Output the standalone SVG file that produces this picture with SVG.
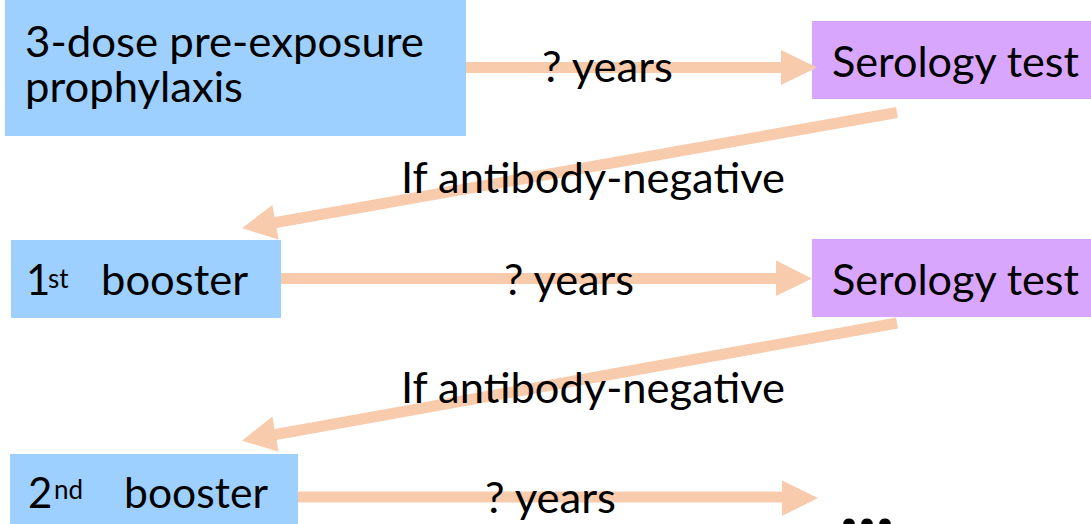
<svg xmlns="http://www.w3.org/2000/svg" width="1091" height="524" viewBox="0 0 1091 524">
<style>
.blue{fill:#9ED0FF}
.purple{fill:#D9A6FE}
.t{font-family:Lato,"Liberation Sans",sans-serif;font-size:42px;fill:#000}
.s{font-size:26px}
.shaft{stroke:#F8CBAD;stroke-width:11;fill:none}
.head{fill:#F8CBAD}
</style>
<rect width="1091" height="524" fill="#fff"/>
<g id="node-preexposure">
<rect class="blue" x="5" y="0" width="461" height="136"/>
<text class="t"><tspan x="25" y="57" textLength="399" lengthAdjust="spacingAndGlyphs">3-dose pre-exposure</tspan><tspan x="25" y="102" textLength="218" lengthAdjust="spacingAndGlyphs">prophylaxis</tspan></text>
</g>
<g id="node-serology1">
<rect class="purple" x="812" y="21" width="279" height="78"/>
<text class="t" x="832" y="77" textLength="247" lengthAdjust="spacingAndGlyphs">Serology test</text>
</g>
<g id="node-booster1">
<rect class="blue" x="11" y="240" width="270" height="78"/>
<text class="t"><tspan x="26" y="295">1</tspan><tspan class="s" x="48" y="288">st</tspan><tspan x="101" y="295" textLength="147" lengthAdjust="spacingAndGlyphs">booster</tspan></text>
</g>
<g id="node-serology2">
<rect class="purple" x="812" y="239" width="279" height="78"/>
<text class="t" x="832" y="295" textLength="247" lengthAdjust="spacingAndGlyphs">Serology test</text>
</g>
<g id="node-booster2">
<rect class="blue" x="10" y="454" width="288" height="70"/>
<text class="t"><tspan x="28" y="508">2</tspan><tspan class="s" x="54" y="499">nd</tspan><tspan x="124" y="508" textLength="144" lengthAdjust="spacingAndGlyphs">booster</tspan></text>
</g>
<g id="node-ellipsis">
<text x="840" y="528" font-family="Lato,'Liberation Sans',sans-serif" font-weight="bold" font-size="66" textLength="54" lengthAdjust="spacingAndGlyphs">...</text>
</g>
<g id="connectors">
<line class="shaft" x1="466" y1="67.5" x2="783" y2="67.5"/>
<polygon class="head" points="781,50 817,67.5 781,85"/>
<line class="shaft" x1="897" y1="112.5" x2="273" y2="223"/>
<polygon class="head" points="272.4,205 242,228.3 278.6,239.5"/>
<line class="shaft" x1="281" y1="278.5" x2="778" y2="278.5"/>
<polygon class="head" points="776,260.5 812,278.5 776,296"/>
<line class="shaft" x1="897" y1="323" x2="273" y2="435"/>
<polygon class="head" points="272.4,416.5 242,440.7 278.6,451.8"/>
<line class="shaft" x1="298" y1="497" x2="784" y2="497"/>
<polygon class="head" points="782,480.5 818,498 782,516"/>
</g>
<g id="labels">
<text class="t" x="542" y="82" textLength="131" lengthAdjust="spacingAndGlyphs">? years</text>
<text class="t" x="401" y="193" textLength="384" lengthAdjust="spacingAndGlyphs">If antibody-negative</text>
<text class="t" x="504" y="295" textLength="130" lengthAdjust="spacingAndGlyphs">? years</text>
<text class="t" x="401" y="403" textLength="384" lengthAdjust="spacingAndGlyphs">If antibody-negative</text>
<text class="t" x="485" y="513" textLength="131" lengthAdjust="spacingAndGlyphs">? years</text>
</g>
</svg>
